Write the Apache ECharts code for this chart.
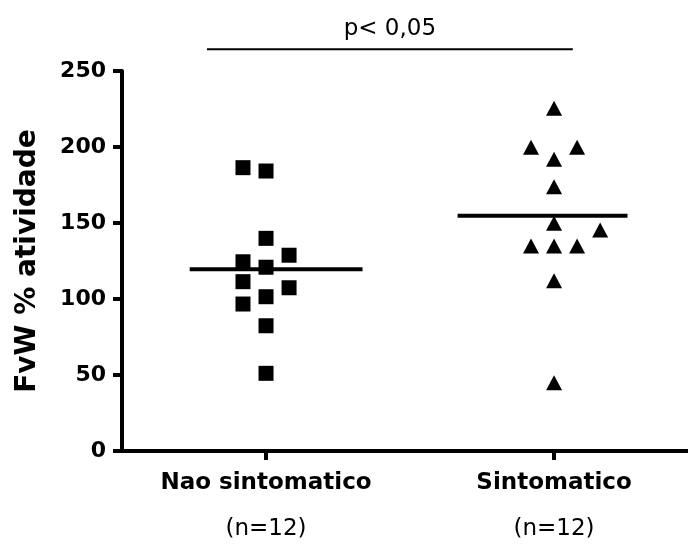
<!DOCTYPE html>
<html>
<head>
<meta charset="utf-8">
<script src="https://cdn.jsdelivr.net/npm/echarts@6/dist/echarts.min.js"></script>
<style>
html,body{margin:0;padding:0;background:#fff;}
#main{width:688px;height:544px;}
</style>
</head>
<body>
<div id="main"></div>
<script>
// grupos (posicao no eixo x: 1 e 3)
var groups=['Nao sintomatico','Sintomatico'];
var groupN=['(n=12)','(n=12)'];
var groupX=[1,3];
var jitterStep=0.16;
// FvW % atividade - nao sintomatico
var naoSint=[186.4,184.2,139.9,128.8,124.5,120.9,111.4,107.4,96.7,101.5,82.4,51.1];
var naoSintCol=[-1,0,0,1,-1,0,-1,1,-1,0,0,0];
// FvW % atividade - sintomatico
var sint=[225.5,199.8,199.8,191.9,173.9,149.8,145.4,134.9,134.9,134.9,112.0,44.9];
var sintCol=[0,-1,1,0,0,0,2,-1,0,1,0,0];
// medias (linhas horizontais)
var means=[119.5,154.8];
var meanFrom=[0.47,2.33];
var meanTo=[1.67,3.51];
// barra de significancia
var pText='p< 0,05';
var pLevel=264.3;
var pFrom=0.59,pTo=3.13;
var yTicks=[0,250,50];

var font='DejaVu Sans';

function pts(vals,cols,gx){
    var out=[];
    for(var i=0;i<vals.length;i++){
        out.push([gx+cols[i]*jitterStep,vals[i]]);
    }
    return out;
}

var myChart=echarts.init(document.getElementById('main'));

var option={
    animation:false,
    backgroundColor:'#fff',
    grid:{left:122,right:0,top:71,bottom:93},
    xAxis:{
        type:'value',
        min:0,
        max:3.93,
        splitLine:{show:false},
        axisLine:{onZero:false,lineStyle:{color:'#000',width:4}},
        axisTick:{show:true,customValues:groupX,length:9,lineStyle:{color:'#000',width:4}},
        axisLabel:{
            customValues:groupX,
            margin:9,
            formatter:function(v){
                var i=groupX.indexOf(Math.round(v));
                return '{b|'+groups[i]+'}\n{n|'+groupN[i]+'}';
            },
            rich:{
                b:{fontFamily:font,fontWeight:'bold',fontSize:23,color:'#000',lineHeight:46},
                n:{fontFamily:font,fontSize:23,color:'#000',lineHeight:46}
            }
        }
    },
    yAxis:{
        type:'value',
        min:yTicks[0],
        max:yTicks[1],
        interval:yTicks[2],
        name:'FvW % atividade',
        nameLocation:'middle',
        nameGap:80,
        nameTextStyle:{fontFamily:font,fontWeight:'bold',fontSize:28,color:'#000'},
        splitLine:{show:false},
        axisLine:{show:true,lineStyle:{color:'#000',width:4}},
        axisTick:{show:true,length:9,lineStyle:{color:'#000',width:4}},
        axisLabel:{margin:16,fontFamily:font,fontWeight:'bold',fontSize:22,color:'#000'}
    },
    series:[
        {
            name:groups[0],
            type:'scatter',
            symbol:'rect',
            symbolSize:15,
            itemStyle:{color:'#000',opacity:1},
            data:pts(naoSint,naoSintCol,groupX[0]),
            z:3
        },
        {
            name:groups[1],
            type:'scatter',
            symbol:'triangle',
            symbolSize:[16,15],
            itemStyle:{color:'#000',opacity:1},
            data:pts(sint,sintCol,groupX[1]),
            z:3
        },
        {
            type:'line',
            symbol:'none',
            lineStyle:{color:'#000',width:4},
            data:[[meanFrom[0],means[0]],[meanTo[0],means[0]]],
            z:4
        },
        {
            type:'line',
            symbol:'none',
            lineStyle:{color:'#000',width:4},
            data:[[meanFrom[1],means[1]],[meanTo[1],means[1]]],
            z:4
        },
        {
            type:'line',
            symbol:'none',
            clip:false,
            lineStyle:{color:'#000',width:2},
            data:[[pFrom,pLevel],[pTo,pLevel]]
        }
    ]
};
myChart.setOption(option);

// texto do p acima da barra
var mid=myChart.convertToPixel({gridIndex:0},[(pFrom+pTo)/2,pLevel]);
myChart.setOption({
    graphic:[{
        type:'text',
        x:mid[0],
        y:mid[1]-9,
        style:{text:pText,fontFamily:font,fontSize:23,fill:'#000',textAlign:'center',textVerticalAlign:'bottom'}
    }]
});
</script>
</body>
</html>
